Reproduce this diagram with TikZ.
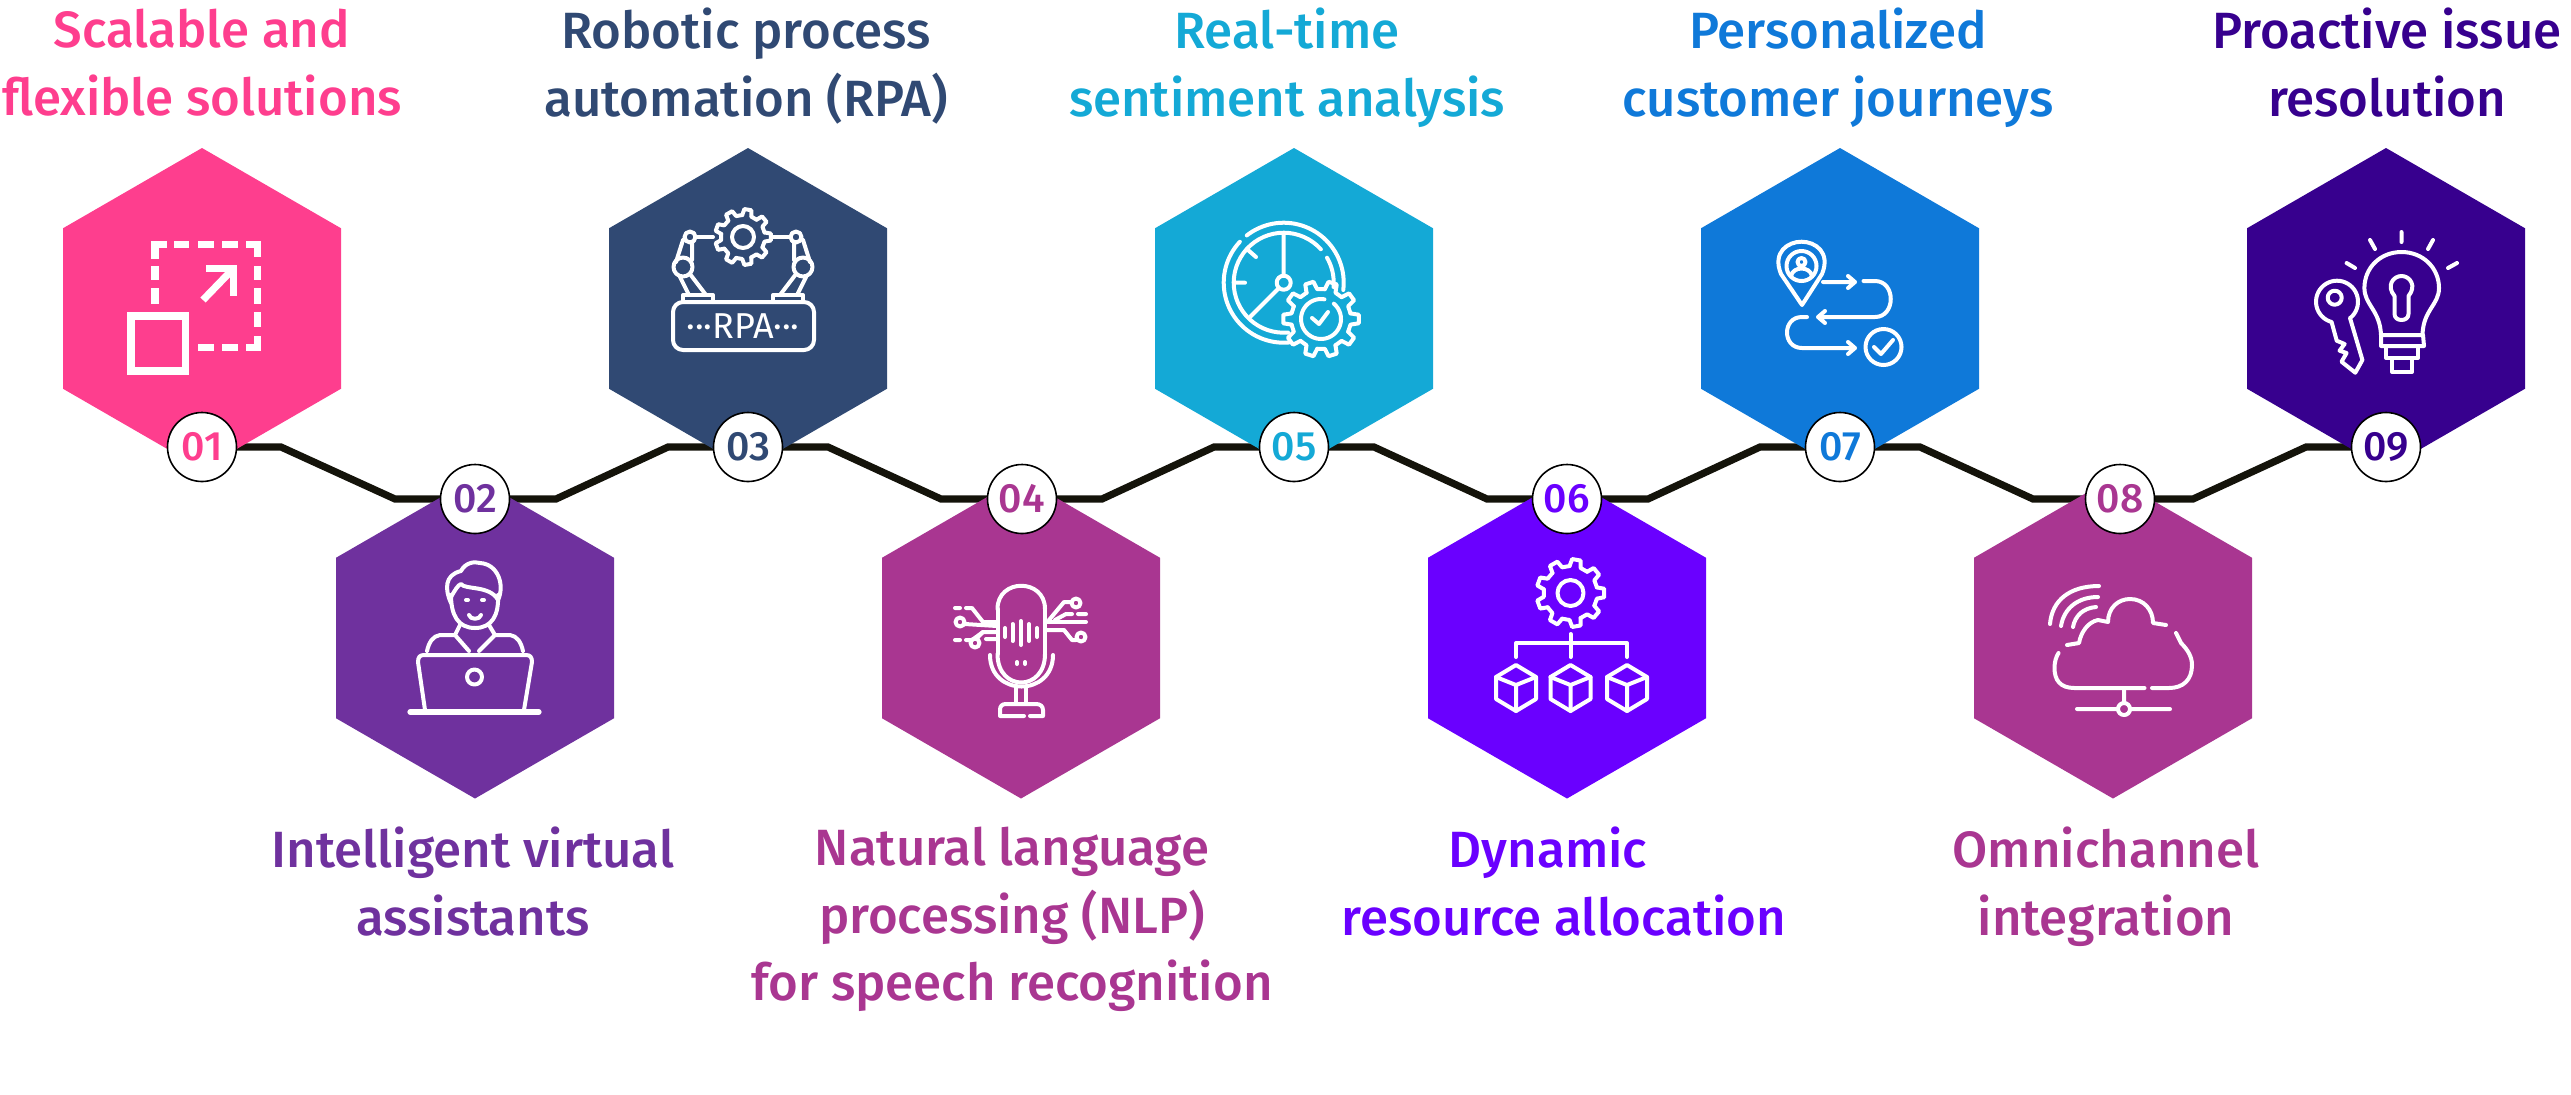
\documentclass[tikz,border=0pt]{standalone}
\usepackage{fontspec}
\setmainfont{Fira Sans Medium}
\newfontfamily\numfont{Fira Sans}
\usetikzlibrary{shapes.geometric,backgrounds}
\definecolor{c1}{HTML}{FE3E8E}
\definecolor{c2}{HTML}{6F319E}
\definecolor{c3}{HTML}{304973}
\definecolor{c4}{HTML}{A93691}
\definecolor{c5}{HTML}{14A9D6}
\definecolor{c6}{HTML}{6A00FF}
\definecolor{c7}{HTML}{0F79D9}
\definecolor{c8}{HTML}{A93691}
\definecolor{c9}{HTML}{37008E}
\definecolor{wire}{HTML}{14130A}
\tikzset{
  hexa/.style={regular polygon,regular polygon sides=6,shape border rotate=30,minimum size=160.5pt,inner sep=0pt,outer sep=0pt,fill=#1},
  numdisc/.style={circle,draw=black,line width=.8pt,fill=white,minimum size=34.5pt,inner sep=0pt,text=#1,font=\fontsize{20.5}{22}\selectfont},
  lab/.style={align=center,text=#1,inner sep=0pt,font=\fontsize{25.5}{33.8}\selectfont},
  icon/.style={draw=white,line width=2pt,line cap=round,line join=round},
  iconthick/.style={draw=white,line width=3.6pt,line cap=butt,line join=miter},
  wireline/.style={draw=wire,line width=3.6pt,line join=miter}
}
\newcommand{\lz}{\rule[-6pt]{0pt}{24pt}}
\newcommand{\gearicon}[5]{%
\begin{scope}[shift={(#1,#2)}]
\foreach \i in {1,...,#5}{%
\pgfmathsetmacro\aa{360*\i/#5}\pgfmathsetmacro\st{360/#5}%
\draw[icon] (\aa-0.30*\st:#3)--(\aa-0.18*\st:#4)--(\aa+0.18*\st:#4)--(\aa+0.30*\st:#3)--(\aa+0.70*\st:#3);}
\end{scope}}
\newcommand{\imgarc}[5]{plot[domain=#4:#5,samples=40] ({#1+#2*cos(\x)},{(#3)+#2*sin(\x)})}
\begin{document}
\begin{tikzpicture}[x=.5pt,y=-.5pt]
\useasboundingbox (0,0) rectangle (2571,1094);
% hexagons
\node[hexa=c1] (h1) at (202,308.5) {};
\node[hexa=c2] (h2) at (475,638) {};
\node[hexa=c3] (h3) at (748,308.5) {};
\node[hexa=c4] (h4) at (1021,638) {};
\node[hexa=c5] (h5) at (1294,308.5) {};
\node[hexa=c6] (h6) at (1567,638) {};
\node[hexa=c7] (h7) at (1840,308.5) {};
\node[hexa=c8] (h8) at (2113,638) {};
\node[hexa=c9] (h9) at (2386,308.5) {};
% number discs
\node[numdisc=c1] (n1) at (202,447) {01};
\node[numdisc=c2] (n2) at (475,499) {02};
\node[numdisc=c3] (n3) at (748,447) {03};
\node[numdisc=c4] (n4) at (1022,499) {04};
\node[numdisc=c5] (n5) at (1294,447) {05};
\node[numdisc=c6] (n6) at (1567,499) {06};
\node[numdisc=c7] (n7) at (1840,447) {07};
\node[numdisc=c8] (n8) at (2120,499) {08};
\node[numdisc=c9] (n9) at (2386,447) {09};
% wire
\coordinate (k1) at (281,447); \coordinate (k2) at (395,499); \coordinate (k3) at (556,499);
\coordinate (k4) at (668,447); \coordinate (k5) at (828,447); \coordinate (k6) at (941,499);
\coordinate (k7) at (1102,499); \coordinate (k8) at (1214,447); \coordinate (k9) at (1374,447);
\coordinate (k10) at (1487,499); \coordinate (k11) at (1648,499); \coordinate (k12) at (1760,447);
\coordinate (k13) at (1920,447); \coordinate (k14) at (2033,499); \coordinate (k15) at (2193,499);
\coordinate (k16) at (2306,447);
\begin{scope}[on background layer]
\draw[wireline] (n1.center)--(k1)--(k2)--(n2.center)--(k3)--(k4)--(n3.center)--(k5)--(k6)--(n4.center)--(k7)--(k8)--(n5.center)--(k9)--(k10)--(n6.center)--(k11)--(k12)--(n7.center)--(k13)--(k14)--(n8.center)--(k15)--(k16)--(n9.center);
\end{scope}
% labels
\node[lab=c1] (t1) at (202,68) {\lz Scalable and\\\lz flexible solutions};
\node[lab=c2] (t2) at (473,887) {\lz Intelligent virtual\\\lz assistants};
\node[lab=c3] (t3) at (746,68) {\lz Robotic process\\\lz automation (RPA)};
\node[lab=c4] (t4) at (1012,920) {\lz Natural language\\\lz processing (NLP)\\\lz for speech recognition};
\node[lab=c5] (t5) at (1287,68) {\lz Real-time\\\lz sentiment analysis};
\node[lab=c6] (t6) at (1564,887) {\lz Dynamic\hspace*{16pt}\\\lz resource allocation};
\node[lab=c7] (t7) at (1838,68) {\lz Personalized\\\lz customer journeys};
\node[lab=c8] (t8) at (2106,887) {\lz Omnichannel\\\lz integration};
\node[lab=c9] (t9) at (2387,68) {\lz Proactive issue\\\lz resolution};
% icon 1 : scale
\draw[iconthick] (131,316) rectangle (185.5,371);
\draw[iconthick] (155,259)--(155,244.5)--(167,244.5);
\draw[iconthick] (174,244.5)--(189,244.5) (198,244.5)--(213.5,244.5) (222,244.5)--(238,244.5);
\draw[iconthick] (246,244.5)--(257.5,244.5)--(257.5,257);
\draw[iconthick] (257.5,266)--(257.5,280) (257.5,288)--(257.5,304) (257.5,312)--(257.5,327);
\draw[iconthick] (257.5,336)--(257.5,347.5)--(246,347.5);
\draw[iconthick] (238,347.5)--(222,347.5) (213.5,347.5)--(198,347.5);
\draw[iconthick] (155,266)--(155,280) (155,288)--(155,304);
\draw[iconthick] (206,268.5)--(233.5,268.5)--(233.5,296);
\draw[iconthick] (203,300)--(232,270);
% icon 2 : person at laptop
\draw[icon,line width=2.6pt] (410,712)--(539,712);
\draw[icon] (425,710)--(418,662)..controls(418,657)and(420,655)..(424,655)--(526,655)..controls(530,655)and(532,657)..(532,662)--(524,710);
\draw[icon] (474.5,677) circle[radius=7.5];
\draw[icon] (451,603)..controls(445,590)and(444,575)..(461,571)..controls(465,563)and(474,561)..(480,563)..controls(498,564)and(505,585)..(498,600);
\draw[icon] (451,595)..controls(451,615)and(458,628)..(475,628)..controls(492,628)and(499,615)..(498,595);
\draw[icon] (451,597)..controls(455,590)and(458,585)..(461,584)..controls(465,590)and(490,585)..(498,600);
\draw[icon] (466,600)--(468,600) (482,600)--(484,600);
\draw[icon] (469,615)..controls(470,620)and(480,620)..(481,615);
\draw[icon] (460,625)--(455,635)--(469,651) (427,651)..controls(429,642)and(433,636)..(440,635)--(455,635);
\draw[icon] (489,625)--(495,635)--(479,651) (523,651)..controls(521,642)and(517,636)..(510,635)--(495,635);
% icon 3 : RPA
\draw[icon,rounded corners=5pt] (673,302) rectangle (814,350);
\node[inner sep=0pt,text=white,font=\numfont\fontsize{18}{19}\selectfont] (rpa) at (743,326) {···RPA···};
\gearicon{743}{237}{22}{28}{9}
\draw[icon] (743,237) circle[radius=11];
\foreach \s in {1,-1}{
\begin{scope}[shift={(743,0)},xscale=\s]
\draw[icon] (-53,237) circle[radius=5.5];
\draw[icon] (-46,237)--(-30,237);
\draw[icon] (-60,240)--(-67,262) (-51,242)--(-51,260);
\draw[icon] (-60,267) circle[radius=9.5];
\draw[icon] (-63,277)--(-54,295) (-53,274)--(-37,295);
\draw[icon] (-60,302)--(-60,295)--(-30,295)--(-30,302);
\end{scope}}
% icon 4 : microphone
\draw[icon] (997.5,609)--(997.5,654) (1045,609)--(1045,654);
\draw[icon] (997.5,654)..controls(997.5,692)and(1045,692)..(1045,654);
\draw[icon] (997.5,609)..controls(997.5,578)and(1045,578)..(1045,609);
\draw[icon] (1005,628)--(1005,637) (1012.5,624)--(1012.5,641) (1021,621)--(1021,645) (1029,624)--(1029,641) (1037,628)--(1037,637);
\draw[icon] (1017,662)--(1017,664) (1025,662)--(1025,664);
\draw[icon] (990,655)..controls(990,697)and(1053,697)..(1053,655);
\draw[icon] (1016,687)--(1016,703) (1026,687)--(1026,703);
\draw[icon] (1000,716)--(1000,710)..controls(1000,706)and(1002,704)..(1006,704)--(1036,704)..controls(1040,704)and(1043,706)..(1043,710)--(1043,716)--(1030,716) (1024,716)--(1000,716);
\draw[icon] (1049,620)--(1064,602)--(1071,602) (1076,603) circle[radius=4.5];
\draw[icon] (1055,620)--(1066,614)--(1072,614) (1078,614)--(1086,614);
\draw[icon] (1045,622)--(1086,622);
\draw[icon] (1045,630)--(1064,630)--(1072,640)--(1076,640) (1081,637) circle[radius=4.5];
\draw[icon] (997,622)--(983,622)--(972,608)--(966,608) (955,608)--(960,608);
\draw[icon] (965,624)--(997,626) (960,622) circle[radius=4.5];
\draw[icon] (997,632)--(983,632)--(972,640)--(966,640) (955,640)--(960,640);
\draw[icon] (986,639)--(997,639) (975,643) circle[radius=4.5] (977,638)--(983,632);
% icon 5 : clock and gear
\draw[icon] (1283.7,282.7) circle[radius=7];
\draw[icon] \imgarc{1283.7}{60}{282.7}{-128}{7};
\draw[icon] \imgarc{1283.7}{60}{282.7}{-137}{-275};
\draw[icon] \imgarc{1283.7}{50}{282.7}{-42}{-275};
\draw[icon] \imgarc{1283.7}{50}{282.7}{-30}{5};
\draw[icon] (1283.7,276)--(1283.7,233) (1234,282.7)--(1245,282.7) (1248,250)--(1256,257) (1279,288)--(1250,317);
\gearicon{1321}{319}{30}{38}{10}
\draw[icon] \imgarc{1321}{20}{319}{-50}{280};
\draw[icon] (1312,318)--(1319,324)--(1328,312);
% icon 6 : gear and cubes
\gearicon{1570.5}{593}{27}{34}{9}
\draw[icon] (1570.5,593) circle[radius=13];
\draw[icon] (1570.5,634)--(1570.5,657) (1516,657)--(1516,643)--(1627,643)--(1627,657);
\foreach \cx in {1516,1570.5,1627}{
\draw[icon] (\cx,665)--(\cx+20,677)--(\cx+20,699)--(\cx,711)--(\cx-20,699)--(\cx-20,677)--cycle;
\draw[icon] (\cx-20,677)--(\cx,685)--(\cx+20,677) (\cx,685)--(\cx,711);}
% icon 7 : journey
\draw[icon] (1802,305)--(1781,274)..controls(1772,252)and(1788,241.7)..(1801.5,241.7)..controls(1815,241.7)and(1831,252)..(1822,274)--cycle;
\draw[icon] (1801.5,266) circle[radius=15];
\draw[icon] (1801.5,262) circle[radius=4];
\draw[icon] (1791,276)..controls(1793,266)and(1810,266)..(1812,276);
\draw[icon] (1823,282)--(1855,282) (1848,276)--(1855,282)--(1848,288);
\draw[icon] (1863.5,281)--(1875,281)..controls(1896,281)and(1896,317)..(1875,317)--(1818,317) (1825,311)--(1818,317)--(1825,323);
\draw[icon] (1807,317)--(1802,317)..controls(1782,317)and(1782,348)..(1802,348)--(1855,348) (1848,342)--(1855,348)--(1848,354);
\draw[icon] (1883.5,347) circle[radius=18];
\draw[icon] (1874,347)--(1881,354)--(1893,340);
% icon 8 : cloud
\draw[icon] (2144.5,688)--(2074.5,688)..controls(2060,688)and(2054.5,680)..(2054.5,668)..controls(2054.5,662)and(2056,657)..(2058.5,653);
\draw[icon] (2152,688)--(2169,688)..controls(2183,688)and(2192,680)..(2192,665)..controls(2192,657)and(2188,650)..(2181,643)--(2176,633);
\draw[icon] (2067,645)--(2079,643)..controls(2081,632)and(2088,622)..(2098,620)--(2108,622)..controls(2108,608)and(2118,599)..(2130,599)..controls(2144,599)and(2153,610)..(2153,623)--(2166,625);
\draw[icon] (2050,624)..controls(2052,600)and(2070,586)..(2099,586);
\draw[icon] (2061,626)..controls(2064,608)and(2078,597)..(2098,597);
\draw[icon] (2073,627)..controls(2075,616)and(2083,608)..(2096,607);
\draw[icon] (2124,690)--(2124,703) (2124,709) circle[radius=6] (2077,709)--(2118,709) (2130,709)--(2170,709);
% icon 9 : bulb and key
\draw[icon] (2381,335)..controls(2380,310)and(2364.4,305)..(2364.4,288)..controls(2364.4,268)and(2380,252)..(2401.5,252)..controls(2423,252)and(2439,268)..(2439,288)..controls(2439,305)and(2423,310)..(2422.5,335)--cycle;
\draw[icon] (2381,335)--(2381,346)--(2424,346)--(2423,335);
\draw[icon] (2386,346)--(2386,358)--(2418,358)--(2418,346);
\draw[icon] (2392,358)--(2392,372)--(2412,372)--(2412,358);
\draw[icon] (2394.5,296)--(2394.5,314)..controls(2394.5,322)and(2408.5,322)..(2408.5,314)--(2408.5,296)..controls(2417,286)and(2410,276)..(2401.5,276)..controls(2393,276)and(2386,286)..(2394.5,296)--cycle;
\draw[icon] (2401.5,232)--(2401.5,242) (2370,240)--(2375,249) (2433,240)--(2428,249) (2346.6,263)--(2355,268) (2457,263)--(2448,268);
\draw[icon] (2350,318) -- plot[domain=51:-255,samples=40] ({2337+21*cos(\x)},{301.7+21*sin(\x)}) -- (2336.7,340.7)--(2344.6,344)--(2339.5,350.7)--(2346.6,353)--(2341.5,361.7)--(2355.3,372.7)--(2362.4,360)--cycle;
\draw[icon] (2334.7,297.7) circle[radius=7];
\end{tikzpicture}
\end{document}
